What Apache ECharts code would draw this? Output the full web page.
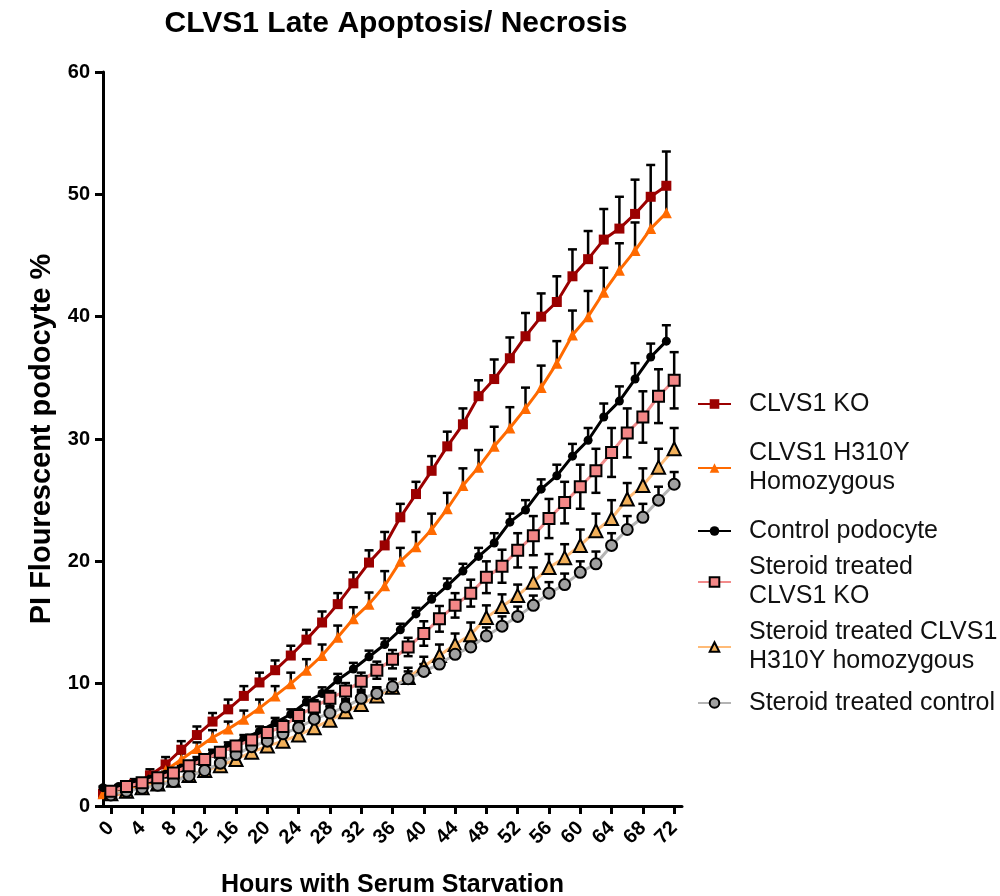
<!DOCTYPE html>
<html>
<head>
<meta charset="utf-8">
<script src="https://cdn.jsdelivr.net/npm/echarts@6/dist/echarts.min.js"></script>
<style>
  html, body { margin: 0; padding: 0; background: #fff; }
  #chart { width: 1000px; height: 896px; }
</style>
</head>
<body>
<div id="chart"></div>
<script>
// hours: untreated lines were read one hour earlier than the steroid ones
const hoursOdd = [-1, 1, 3, 5, 7, 9, 11, 13, 15, 17, 19, 21, 23, 25, 27, 29, 31, 33, 35, 37, 39, 41, 43, 45, 47, 49, 51, 53, 55, 57, 59, 61, 63, 65, 67, 69, 71]
const hoursEven = [0, 2, 4, 6, 8, 10, 12, 14, 16, 18, 20, 22, 24, 26, 28, 30, 32, 34, 36, 38, 40, 42, 44, 46, 48, 50, 52, 54, 56, 58, 60, 62, 64, 66, 68, 70, 72]
const xTicks = [0, 4, 8, 12, 16, 20, 24, 28, 32, 36, 40, 44, 48, 52, 56, 60, 64, 68, 72]

// CLVS1 KO
const koMean = [1.0, 1.3, 1.8, 2.5, 3.4, 4.6, 5.8, 6.9, 7.9, 9.0, 10.1, 11.1, 12.3, 13.6, 15.0, 16.5, 18.2, 19.9, 21.3, 23.6, 25.5, 27.4, 29.4, 31.2, 33.5, 34.9, 36.6, 38.4, 40.0, 41.2, 43.3, 44.7, 46.3, 47.2, 48.4, 49.8, 50.7]
const koErr = [0.2, 0.3, 0.4, 0.5, 0.6, 0.7, 0.7, 0.7, 0.8, 0.8, 0.8, 0.8, 0.8, 0.8, 0.9, 0.9, 0.9, 1.0, 1.1, 1.1, 1.0, 1.2, 1.2, 1.3, 1.3, 1.6, 1.7, 1.9, 1.9, 2.1, 2.2, 2.3, 2.5, 2.6, 2.8, 2.6, 2.8]
// CLVS1 H310Y homozygous
const h310Mean = [1.0, 1.3, 1.7, 2.2, 2.9, 3.8, 4.7, 5.6, 6.3, 7.1, 8.0, 9.0, 10.0, 11.1, 12.3, 13.8, 15.3, 16.5, 18.0, 20.0, 21.2, 22.6, 24.3, 26.2, 27.7, 29.4, 30.9, 32.5, 34.2, 36.2, 38.5, 40.0, 42.0, 43.8, 45.4, 47.2, 48.5]
const h310Err = [0.2, 0.2, 0.3, 0.3, 0.4, 0.5, 0.5, 0.6, 0.6, 0.7, 0.7, 0.8, 0.9, 0.9, 0.9, 0.95, 0.95, 0.95, 1.2, 1.1, 1.2, 1.3, 1.3, 1.4, 1.4, 1.6, 1.7, 1.7, 1.8, 1.8, 2.0, 2.1, 2.0, 2.2, 2.3, 2.5, 2.3]
// Control podocyte
const ctrlMean = [1.5, 1.6, 1.9, 2.2, 2.6, 3.1, 3.7, 4.3, 4.9, 5.5, 6.1, 6.8, 7.5, 8.5, 9.2, 10.3, 11.2, 12.2, 13.2, 14.4, 15.7, 16.9, 18.0, 19.2, 20.4, 21.5, 23.2, 24.2, 25.9, 27.0, 28.6, 29.9, 31.8, 33.1, 34.9, 36.7, 38.0]
const ctrlErr = [0.1, 0.1, 0.1, 0.2, 0.2, 0.2, 0.3, 0.3, 0.3, 0.3, 0.4, 0.4, 0.4, 0.4, 0.5, 0.5, 0.5, 0.5, 0.5, 0.5, 0.5, 0.5, 0.6, 0.6, 0.7, 0.8, 0.7, 0.8, 0.8, 0.9, 1.0, 1.0, 1.1, 1.2, 1.3, 1.1, 1.3]
// Steroid treated CLVS1 KO
const sKoMean = [1.2, 1.6, 1.9, 2.3, 2.7, 3.3, 3.8, 4.4, 4.9, 5.4, 6.0, 6.5, 7.4, 8.1, 8.8, 9.4, 10.2, 11.1, 12.0, 13.0, 14.1, 15.3, 16.4, 17.4, 18.7, 19.6, 20.9, 22.1, 23.5, 24.8, 26.1, 27.4, 28.9, 30.5, 31.8, 33.5, 34.8]
const sKoErr = [0.1, 0.1, 0.2, 0.2, 0.2, 0.3, 0.3, 0.3, 0.4, 0.4, 0.4, 0.5, 0.5, 0.55, 0.6, 0.65, 0.7, 0.7, 0.75, 0.75, 1.0, 1.05, 1.0, 1.1, 1.3, 1.35, 1.4, 1.6, 1.6, 1.7, 1.8, 1.8, 2.0, 2.0, 2.1, 2.2, 2.3]
// Steroid treated CLVS1 H310Y homozygous
const sH310Mean = [1.0, 1.2, 1.5, 1.8, 2.1, 2.5, 2.9, 3.3, 3.8, 4.4, 4.9, 5.3, 5.8, 6.4, 7.0, 7.7, 8.3, 9.0, 9.7, 10.5, 11.4, 12.3, 13.2, 14.0, 15.4, 16.3, 17.2, 18.3, 19.5, 20.3, 21.3, 22.5, 23.5, 25.1, 26.2, 27.7, 29.2]
const sH310Err = [0.1, 0.1, 0.1, 0.2, 0.2, 0.2, 0.3, 0.3, 0.3, 0.4, 0.4, 0.4, 0.5, 0.5, 0.5, 0.6, 0.6, 0.7, 0.7, 0.8, 0.8, 0.9, 0.9, 1.0, 1.0, 1.0, 0.9, 1.2, 1.1, 1.1, 1.3, 1.4, 1.5, 1.3, 1.4, 1.5, 1.7]
// Steroid treated control
const sCtrlMean = [0.9, 1.2, 1.45, 1.7, 2.0, 2.45, 2.9, 3.5, 4.2, 4.85, 5.3, 5.9, 6.4, 7.1, 7.6, 8.1, 8.8, 9.2, 9.75, 10.4, 11.0, 11.6, 12.4, 13.0, 13.9, 14.7, 15.5, 16.4, 17.4, 18.1, 19.1, 19.8, 21.3, 22.6, 23.6, 25.0, 26.3]
const sCtrlErr = [0.1, 0.1, 0.1, 0.1, 0.2, 0.2, 0.2, 0.3, 0.3, 0.3, 0.3, 0.4, 0.4, 0.4, 0.5, 0.5, 0.5, 0.5, 0.6, 0.6, 0.6, 0.6, 0.7, 0.7, 0.7, 0.8, 0.8, 0.8, 0.9, 0.9, 0.9, 1.0, 1.0, 1.1, 1.1, 1.1, 1.0]

const FONT = '"Liberation Sans", Arial, sans-serif'

const legendLabels = {
  'CLVS1 KO': 'CLVS1 KO',
  'CLVS1 H310Y': 'CLVS1 H310Y\nHomozygous',
  'Control podocyte': 'Control podocyte',
  'Steroid CLVS1 KO': 'Steroid treated\nCLVS1 KO',
  'Steroid CLVS1 H310Y': 'Steroid treated CLVS1\nH310Y homozygous',
  'Steroid control': 'Steroid treated control'
}

// 误差线 (custom series)
const errorBars = (id, xs, means, errs, both) => ({
  type: 'custom',
  id: id,
  z: 2,
  silent: true,
  data: xs.map((x, i) => [x, means[i], errs[i]]),
  renderItem: (params, api) => {
    const x = api.value(0)
    const m = api.value(1)
    const e = api.value(2)
    const top = api.coord([x, m + e])
    const bot = api.coord([x, both ? m - e : m])
    const hw = 4.5
    const st = { stroke: '#000', lineWidth: 2.5 }
    const children = [
      { type: 'line', shape: { x1: top[0], y1: top[1], x2: bot[0], y2: bot[1] }, style: st },
      { type: 'line', shape: { x1: top[0] - hw, y1: top[1], x2: top[0] + hw, y2: top[1] }, style: st }
    ]
    if (both) {
      children.push({ type: 'line', shape: { x1: bot[0] - hw, y1: bot[1], x2: bot[0] + hw, y2: bot[1] }, style: st })
    }
    return { type: 'group', children: children }
  }
})

const lineSeries = (name, xs, means, lineColor, symbol, size, fill, border, z) => ({
  type: 'line',
  name: name,
  z: z,
  data: xs.map((x, i) => [x, means[i]]),
  symbol: symbol,
  symbolSize: size,
  showAllSymbol: true,
  lineStyle: { color: lineColor, width: 3 },
  itemStyle: { color: fill, borderColor: border, borderWidth: border === fill ? 0 : 2 }
})

const legendAt = (name, top) => ({
  data: [name],
  left: 697,
  top: top,
  padding: 0,
  itemWidth: 33,
  itemHeight: 12,
  selectedMode: false,
  formatter: (n) => legendLabels[n],
  textStyle: { fontFamily: FONT, fontSize: 25, lineHeight: 29, color: '#111', padding: [0, 0, 0, 13] }
})

const chart = echarts.init(document.getElementById('chart'))

chart.setOption({
  animation: false,
  title: {
    text: 'CLVS1 Late Apoptosis/ Necrosis',
    left: 391,
    textAlign: 'center',
    top: 4,
    textStyle: { fontFamily: FONT, fontSize: 30, fontWeight: 'bold', color: '#000' }
  },
  legend: [
    legendAt('CLVS1 KO', 389.5),
    legendAt('CLVS1 H310Y', 439),
    legendAt('Control podocyte', 516.5),
    legendAt('Steroid CLVS1 KO', 553),
    legendAt('Steroid CLVS1 H310Y', 618),
    legendAt('Steroid control', 688.5)
  ],
  grid: { left: 103, right: 318, top: 72, bottom: 90, outerBoundsMode: 'none' },
  xAxis: {
    type: 'value',
    min: -1,
    max: 73,
    name: 'Hours with Serum Starvation',
    nameLocation: 'middle',
    nameGap: 67,
    nameTextStyle: { fontFamily: FONT, fontSize: 25, fontWeight: 'bold', color: '#000' },
    splitLine: { show: false },
    axisLine: { lineStyle: { color: '#000', width: 3 } },
    axisTick: { customValues: xTicks, length: 8, lineStyle: { color: '#000', width: 3 } },
    axisLabel: {
      customValues: xTicks,
      rotate: 45,
      margin: 19,
      fontFamily: FONT,
      fontSize: 20,
      fontWeight: 'bold',
      color: '#000'
    }
  },
  yAxis: {
    type: 'value',
    min: 0,
    max: 60,
    interval: 10,
    name: 'PI Flourescent podocyte %',
    nameLocation: 'middle',
    nameGap: 40,
    nameTextStyle: { fontFamily: FONT, fontSize: 29, fontWeight: 'bold', color: '#000' },
    splitLine: { show: false },
    axisLine: { show: true, onZero: false, lineStyle: { color: '#000', width: 3 } },
    axisTick: { show: true, length: 8, lineStyle: { color: '#000', width: 3 } },
    axisLabel: { margin: 13, fontFamily: FONT, fontSize: 20, fontWeight: 'bold', color: '#000' }
  },
  series: [
    errorBars('koErr', hoursOdd, koMean, koErr, false),
    errorBars('h310Err', hoursOdd, h310Mean, h310Err, false),
    errorBars('ctrlErr', hoursOdd, ctrlMean, ctrlErr, false),
    errorBars('sH310Err', hoursEven, sH310Mean, sH310Err, false),
    errorBars('sCtrlErr', hoursEven, sCtrlMean, sCtrlErr, false),
    errorBars('sKoErr', hoursEven, sKoMean, sKoErr, true),
    lineSeries('CLVS1 KO', hoursOdd, koMean, '#9b0000', 'rect', 10, '#9b0000', '#9b0000', 3),
    lineSeries('CLVS1 H310Y', hoursOdd, h310Mean, '#ff6a00', 'triangle', 11, '#ff6a00', '#ff6a00', 4),
    lineSeries('Control podocyte', hoursOdd, ctrlMean, '#000000', 'circle', 9, '#000000', '#000000', 5),
    lineSeries('Steroid CLVS1 H310Y', hoursEven, sH310Mean, '#ffbb77', 'triangle', 13, '#f2b05a', '#000000', 6),
    lineSeries('Steroid control', hoursEven, sCtrlMean, '#b4b4b4', 'circle', 11, '#a0a0a0', '#000000', 7),
    lineSeries('Steroid CLVS1 KO', hoursEven, sKoMean, '#f28a8a', 'rect', 11, '#f38787', '#000000', 8)
  ]
})
</script>
</body>
</html>
